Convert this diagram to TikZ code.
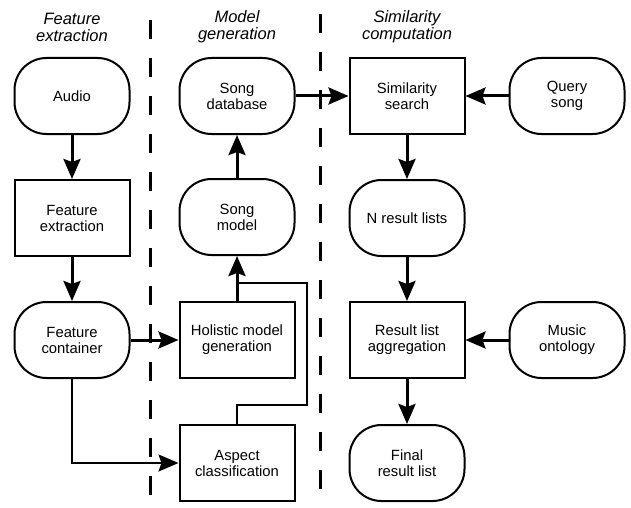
\documentclass[tikz,border=0pt]{standalone}
\usepackage{fontspec}
\setmainfont{Liberation Sans}
\usetikzlibrary{positioning, calc, arrows.meta}
\tikzstyle{Arrow} = [
%thick connector with filled tip:
line width = 3pt,
-{Stealth[length = 20pt, width = 17pt, inset = 3pt]}
]
\tikzstyle{Link} = [line width = 2pt]

\begin{document}
\begin{tikzpicture}[x = 1pt, y = -1pt,
			process/.style = {rectangle, line width = 2pt, draw, text centered, align = center, minimum width = 115pt, minimum height = 76pt, font = \fontsize{14.8}{16}\selectfont},
			store/.style = {process, rounded corners = 32pt},
			stage/.style = {align = center, font = \itshape\fontsize{16.5}{17}\selectfont},
			divider/.style = {line width = 3pt, dash pattern = on 19pt off 19pt},
		]
		\useasboundingbox (0,0) rectangle (631,508);

		% stage headers
		\node[stage](hFeat) at (72,27){Feature\\extraction};
		\node[stage](hModel) at (237,27){Model\\generation};
		\node[stage](hSim) at (407,27){Similarity\\computation};

		% dividers
		\coordinate(divAtop) at (150,20);
		\coordinate(divAbot) at (150,508);
		\coordinate(divBtop) at (320,14);
		\coordinate(divBbot) at (320,508);
		\draw[divider](divAtop)--(divAbot);
		\draw[divider](divBtop)--(divBbot);

		% feature extraction
		\node[store](audio) at (72,96){Audio};
		\node[process](featExt) at (72,218){Feature\\extraction};
		\node[store](featCont) at (72,340){Feature\\container};

		% model generation
		\node[store](songDb) at (237,96){Song\\database};
		\node[store](songModel) at (237,217){Song\\model};
		\node[process](holistic) at (237,340){Holistic model\\generation};
		\node[process](aspect) at (237,463){Aspect\\classification};

		% similarity computation
		\node[process](simSearch) at (407,96){Similarity\\search};
		\node[store](nResults) at (407,218){N result lists};
		\node[process](aggregate) at (407,340){Result list\\aggregation};
		\node[store](finalList) at (407,463){Final\\result list};
		\node[store](query) at (567,96){Query\\song};
		\node[store](ontology) at (567,340){Music\\ontology};

		\draw[Arrow](audio)--(featExt);
		\draw[Arrow](featExt)--(featCont);
		\draw[Arrow](featCont)--(holistic);
		\draw[Link, -{Stealth[length = 20pt, width = 17pt, inset = 3pt]}](featCont.south)|-(aspect.west);
		\draw[Arrow](holistic)--(songModel);
		\draw[Arrow](songModel)--(songDb);

		\coordinate(loopA) at (307,405);
		\coordinate(loopB) at (307,283);
		\coordinate(join) at (237,283);
		\draw[Link](aspect.north)|-(loopA)--(loopB)--(join);

		\draw[Arrow](songDb)--(simSearch);
		\draw[Arrow](query)--(simSearch);
		\draw[Arrow](simSearch)--(nResults);
		\draw[Arrow](nResults)--(aggregate);
		\draw[Arrow](ontology)--(aggregate);
		\draw[Arrow](aggregate)--(finalList);

	\end{tikzpicture}
\end{document}
